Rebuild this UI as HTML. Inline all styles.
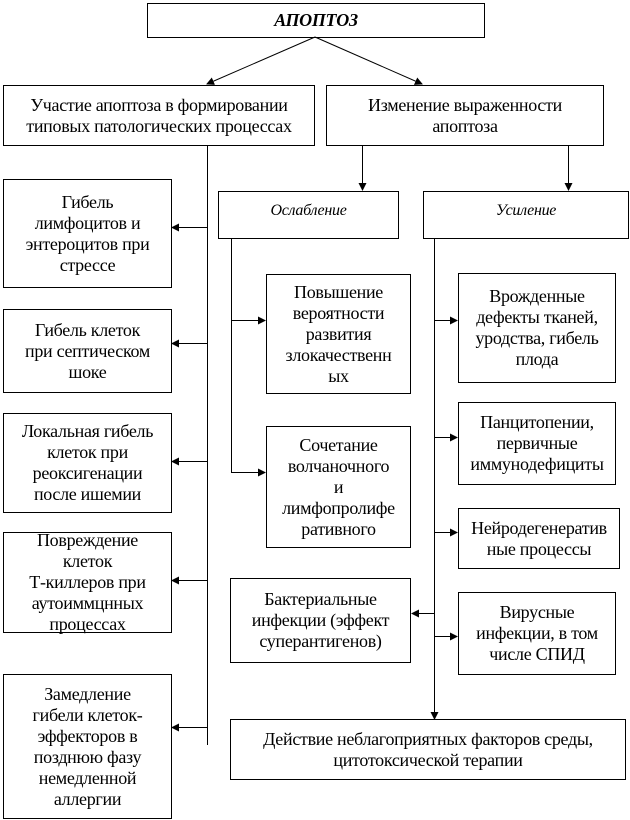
<!DOCTYPE html>
<html><head><meta charset="utf-8"><style>
body{margin:0;width:630px;height:820px;background:#fff;position:relative;overflow:hidden}
.b{position:absolute;border:1px solid #000;box-sizing:border-box;display:flex;align-items:center;justify-content:center;text-align:center;font-family:"Liberation Serif","DejaVu Serif",serif;font-size:18px;line-height:21px;color:#000;letter-spacing:-0.3px;white-space:nowrap}
.i{font-style:italic;align-items:flex-start;padding-top:8px;font-size:16px}
svg{position:absolute;left:0;top:0}
</style></head><body>
<svg width="630" height="820">
<defs><marker id="a" markerWidth="8" markerHeight="8" refX="7" refY="4" orient="auto" markerUnits="userSpaceOnUse"><path d="M0,0 L8,4 L0,8z" fill="#000"/></marker></defs>
<g stroke="#000" stroke-width="1" fill="none">
<line x1="315" y1="37" x2="207" y2="84" marker-end="url(#a)"/>
<line x1="315" y1="37" x2="422" y2="84" marker-end="url(#a)"/>
<line x1="207.5" y1="145" x2="207.5" y2="745"/>
<line x1="207" y1="227.5" x2="172" y2="227.5" marker-end="url(#a)"/>
<line x1="207" y1="343.5" x2="172" y2="343.5" marker-end="url(#a)"/>
<line x1="207" y1="461.5" x2="172" y2="461.5" marker-end="url(#a)"/>
<line x1="207" y1="580.5" x2="172" y2="580.5" marker-end="url(#a)"/>
<line x1="207" y1="727.5" x2="172" y2="727.5" marker-end="url(#a)"/>
<line x1="362.5" y1="145" x2="362.5" y2="190" marker-end="url(#a)"/>
<line x1="568.5" y1="145" x2="568.5" y2="190" marker-end="url(#a)"/>
<line x1="231.5" y1="238" x2="231.5" y2="472"/>
<line x1="231" y1="320.5" x2="265" y2="320.5" marker-end="url(#a)"/>
<line x1="231" y1="472.5" x2="265" y2="472.5" marker-end="url(#a)"/>
<line x1="434.5" y1="238" x2="434.5" y2="719" marker-end="url(#a)"/>
<line x1="434" y1="320.5" x2="457" y2="320.5" marker-end="url(#a)"/>
<line x1="434" y1="437.5" x2="457" y2="437.5" marker-end="url(#a)"/>
<line x1="434" y1="532.5" x2="457" y2="532.5" marker-end="url(#a)"/>
<line x1="434" y1="636.5" x2="457" y2="636.5" marker-end="url(#a)"/>
<line x1="434" y1="613.5" x2="412" y2="613.5" marker-end="url(#a)"/>
</g></svg>
<div class="b" style="left:147px;top:3px;width:338px;height:35px;font-weight:bold;font-style:italic">АПОПТОЗ</div>
<div class="b" style="left:3px;top:85px;width:312px;height:61px">Участие апоптоза в формировании<br>типовых патологических процессах</div>
<div class="b" style="left:326px;top:85px;width:278px;height:61px">Изменение выраженности<br>апоптоза</div>
<div class="b" style="left:3px;top:179px;width:169px;height:109px">Гибель<br>лимфоцитов и<br>энтероцитов при<br>стрессе</div>
<div class="b" style="left:3px;top:309px;width:169px;height:84px">Гибель клеток<br>при септическом<br>шоке</div>
<div class="b" style="left:3px;top:413px;width:169px;height:100px">Локальная гибель<br>клеток при<br>реоксигенации<br>после ишемии</div>
<div class="b" style="left:3px;top:532px;width:169px;height:101px">Повреждение<br>клеток<br>Т-киллеров при<br>аутоиммцнных<br>процессах</div>
<div class="b" style="left:3px;top:674px;width:169px;height:145px">Замедление<br>гибели клеток-<br>эффекторов в<br>позднюю фазу<br>немедленной<br>аллергии</div>
<div class="b i" style="left:218px;top:191px;width:181px;height:48px">Ослабление</div>
<div class="b i" style="left:423px;top:191px;width:206px;height:48px">Усиление</div>
<div class="b" style="left:266px;top:274px;width:145px;height:120px">Повышение<br>вероятности<br>развития<br>злокачественн<br>ых</div>
<div class="b" style="left:266px;top:426px;width:145px;height:122px">Сочетание<br>волчаночного<br>и<br>лимфопролифе<br>ративного</div>
<div class="b" style="left:230px;top:578px;width:181px;height:85px">Бактериальные<br>инфекции (эффект<br>суперантигенов)</div>
<div class="b" style="left:458px;top:273px;width:158px;height:110px">Врожденные<br>дефекты тканей,<br>уродства, гибель<br>плода</div>
<div class="b" style="left:458px;top:402px;width:158px;height:83px">Панцитопении,<br>первичные<br>иммунодефициты</div>
<div class="b" style="left:458px;top:508px;width:162px;height:61px">Нейродегенератив<br>ные процессы</div>
<div class="b" style="left:458px;top:592px;width:158px;height:83px">Вирусные<br>инфекции, в том<br>числе СПИД</div>
<div class="b" style="left:230px;top:719px;width:396px;height:61px">Действие неблагоприятных факторов среды,<br>цитотоксической терапии</div>
</body></html>
